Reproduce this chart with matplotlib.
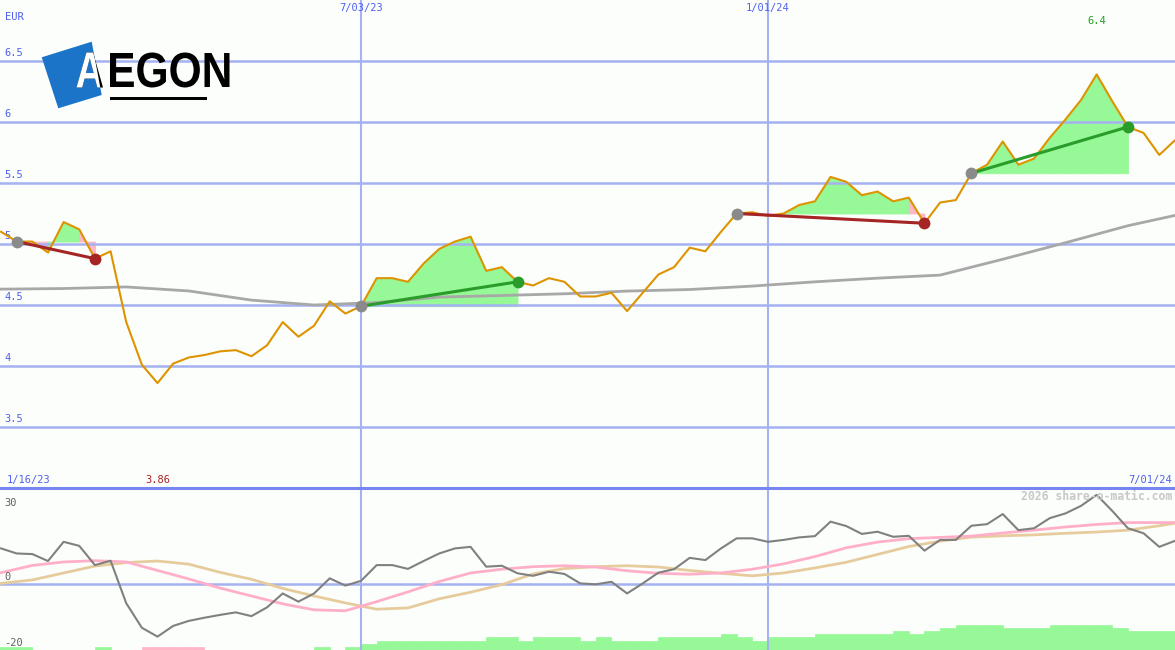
import numpy as np
import pandas as pd
import matplotlib
matplotlib.use("Agg")
import matplotlib.pyplot as plt
import matplotlib.transforms as mtransforms
from matplotlib.patches import Polygon, Rectangle, PathPatch
from matplotlib.textpath import TextPath
from matplotlib.font_manager import FontProperties

# weekly closes (EUR), one per Monday
weeks = pd.date_range("2023-01-23", periods=76, freq="7D")
price = [5.10, 5.02, 5.02, 4.93, 5.18, 5.12, 4.88, 4.94, 4.36, 4.01,
         3.86, 4.02, 4.07, 4.09, 4.12, 4.13, 4.08, 4.17, 4.36, 4.24,
         4.33, 4.53, 4.43, 4.49, 4.72, 4.72, 4.69, 4.84, 4.96, 5.02,
         5.06, 4.78, 4.81, 4.69, 4.66, 4.72, 4.69, 4.57, 4.57, 4.60,
         4.45, 4.60, 4.75, 4.81, 4.97, 4.94, 5.10, 5.25, 5.26, 5.23,
         5.25, 5.32, 5.35, 5.55, 5.51, 5.40, 5.43, 5.35, 5.38, 5.17,
         5.34, 5.36, 5.58, 5.65, 5.84, 5.65, 5.70, 5.87, 6.02, 6.18,
         6.39, 6.17, 5.96, 5.91, 5.73, 5.85]

# long moving average (read every 4 weeks)
ma_idx = list(range(0, 73, 4)) + [75]
ma_val = [4.63, 4.635, 4.648, 4.615, 4.54, 4.50, 4.52, 4.565, 4.578, 4.592,
          4.614, 4.627, 4.655, 4.69, 4.72, 4.745, 4.875, 5.01, 5.15, 5.234]

# trades: (entry week, exit week)
trades = [(1, 6), (23, 33), (47, 59), (62, 72)]

# lower panel: momentum and two signal lines
momentum = [11.3, 9.7, 9.5, 7.3, 13.4, 12.1, 6.0, 7.4, -6.1, -13.9,
            -16.7, -13.3, -11.7, -10.7, -9.8, -9.0, -10.2, -7.4, -3.0, -5.6,
            -3.0, 1.8, -0.5, 1.0, 6.0, 6.0, 4.8, 7.3, 9.7, 11.3,
            11.8, 5.5, 5.8, 3.4, 2.6, 3.9, 3.2, 0.2, -0.1, 0.7,
            -3.0, 0.2, 3.6, 4.7, 8.3, 7.6, 11.3, 14.5, 14.5, 13.4,
            14.0, 14.8, 15.2, 19.8, 18.4, 15.9, 16.6, 15.0, 15.3, 10.6,
            14.0, 14.0, 18.5, 19.0, 22.2, 17.1, 17.7, 20.9, 22.4, 24.8,
            28.3, 23.2, 17.7, 16.1, 11.8, 13.7]
sig_idx = list(range(0, 75, 2)) + [75]
signal_fast = [3.6, 5.9, 7.0, 7.4, 7.0, 4.3, 1.6, -1.3, -3.8, -6.3,
               -8.2, -8.5, -5.6, -2.5, 0.8, 3.5, 4.7, 5.5, 5.8, 5.4,
               4.2, 3.4, 3.1, 3.5, 4.7, 6.4, 8.7, 11.5, 13.3, 14.4,
               14.8, 15.2, 16.2, 17.1, 18.1, 18.9, 19.5, 19.5, 19.5]
signal_slow = [0.2, 1.3, 3.5, 5.7, 6.8, 7.3, 6.3, 3.7, 1.5, -1.4,
               -3.8, -6.0, -8.0, -7.6, -4.7, -2.6, -0.2, 3.2, 4.9, 5.5,
               5.8, 5.4, 4.3, 3.4, 2.6, 3.5, 5.1, 6.9, 9.4, 11.9,
               13.6, 14.9, 15.3, 15.6, 16.1, 16.5, 17.1, 18.5, 19.3]
# trend strength bars (positive green, negative pink)
strength = [1, 1, 1, 0, 0, 0, 0, 1, 0, 0,
            -1, -1, -1, -1, 0, 0, 0, 0, 0, 0,
            0, 1, 0, 1, 2, 3, 3, 3, 3, 3,
            3, 3, 4, 4, 3, 4, 4, 4, 3, 4,
            3, 3, 3, 4, 4, 4, 4, 5, 4, 3,
            4, 4, 4, 5, 5, 5, 5, 5, 6, 5,
            6, 7, 8, 8, 8, 7, 7, 7, 8, 8,
            8, 8, 7, 6, 6, 6]

yticks = [3.5, 4, 4.5, 5, 5.5, 6, 6.5]
vlines = [pd.Timestamp("2023-07-03"), pd.Timestamp("2024-01-01")]

BG = "#fcfefc"
GRID = "#a4b2f2"
BLUE_TXT = "#4f5ff0"
GREEN = "#96f896"
PINK = "#ffb6c6"
mono = "DejaVu Sans Mono"

fig = plt.figure(figsize=(11.75, 6.5), dpi=100, facecolor=BG)
ax = fig.add_axes([0, 162 / 650, 1, 488 / 650], facecolor=BG)
ax2 = fig.add_axes([0, 0, 1, 162 / 650], facecolor=BG)
ax.set_zorder(2)
ax2.set_zorder(1)

xmin = weeks[0] - pd.Timedelta(hours=11)
xmax = weeks[-1] + pd.Timedelta(hours=1)
for a in (ax, ax2):
    a.set_xlim(xmin, xmax)
    a.set_xticks([]); a.set_yticks([])
    for s in a.spines.values():
        s.set_visible(False)
    for d in vlines:
        a.axvline(d, color=GRID, lw=1.5, zorder=1.5)
ax.set_ylim(3.0, 7.0)
ax2.set_ylim(-20.95, 30.48)
# separator between the panels
ax.axhline(3.0, color="#7686ee", lw=2.2, clip_on=False, zorder=6)

# main panel grid + labels
lab_tr = mtransforms.blended_transform_factory(ax.transAxes, ax.transData)
for v in yticks:
    ax.axhline(v, color=GRID, lw=1.8, zorder=1.5)
    ax.text(0.004, v + 0.025, f"{v:g}", transform=lab_tr, ha="left", va="bottom",
            fontsize=7.5, family=mono, color=BLUE_TXT, zorder=0.8)
ax.text(0.004, 0.955, "EUR", transform=ax.transAxes, ha="left", va="bottom",
        fontsize=7.5, family=mono, color=BLUE_TXT)
top_tr = mtransforms.blended_transform_factory(ax.transData, ax.transAxes)
for d in vlines:
    ax.text(d, 0.993, f"{d.month}/{d.day:02d}/{d.year % 100}", transform=top_tr,
            ha="center", va="top", fontsize=7.5, family=mono, color=BLUE_TXT)

# trade fills
for a_i, b_i in trades:
    level = price[a_i]
    for i in range(a_i, b_i):
        col = GREEN if price[i + 1] > level else PINK
        ax.fill_between(weeks[i:i + 2], level, price[i:i + 2], facecolor=col,
                        edgecolor=col, lw=0.6, zorder=1)

ax.plot([weeks[i] for i in ma_idx], ma_val, color="#a8a8a8", lw=2.0, zorder=2)
ax.plot(weeks, price, color="#dd9400", lw=1.5, zorder=3)

for a_i, b_i in trades:
    up = price[b_i] > price[a_i]
    lc = "#2a9c2a" if up else "#a52424"
    ax.plot([weeks[a_i], weeks[b_i]], [price[a_i], price[b_i]], color=lc, lw=2.2, zorder=4)
    ax.plot(weeks[a_i], price[a_i], "o", ms=8.5, color="#8a8a8a", mec="none", zorder=5)
    ax.plot(weeks[b_i], price[b_i], "o", ms=8.5, color=lc, mec="none", zorder=5)

# min / max labels
imax = int(np.argmax(price)); imin = int(np.argmin(price))
ax.text(weeks[imax], 1 - 16 / 488, f"{price[imax]:.1f}", transform=top_tr, ha="center",
        va="top", fontsize=7.5, family=mono, color="#22a022")
ax.text(weeks[imin], 0.006, f"{price[imin]:.2f}", transform=top_tr, ha="center",
        va="bottom", fontsize=7.5, family=mono, color="#a52424")
ax.text(0.006, 0.006, "1/16/23", transform=ax.transAxes, ha="left", va="bottom",
        fontsize=7.5, family=mono, color=BLUE_TXT)
ax.text(0.9975, 0.006, "7/01/24", transform=ax.transAxes, ha="right", va="bottom",
        fontsize=7.5, family=mono, color=BLUE_TXT)

# lower panel
ax2.axhline(0, color=GRID, lw=1.8, zorder=1.5)
bottom = ax2.get_ylim()[0]
for d, s in zip(weeks, strength):
    if s != 0:
        col = GREEN if s > 0 else PINK
        ax2.bar(d, abs(s), bottom=bottom, width=-7, align="edge",
                facecolor=col, edgecolor=col, lw=0.5, zorder=1)
ax2.plot([weeks[i] for i in sig_idx], signal_slow, color="#e6cc9c", lw=2.0, zorder=2)
ax2.plot([weeks[i] for i in sig_idx], signal_fast, color="#ffb0c8", lw=2.0, zorder=2)
ax2.plot(weeks, momentum, color="#808080", lw=1.5, zorder=3)
lab2 = mtransforms.blended_transform_factory(ax2.transAxes, ax2.transData)
ax2.text(0.004, 0.94, "30", transform=ax2.transAxes, ha="left", va="top",
         fontsize=7.5, family=mono, color="#606060")
ax2.text(0.004, 0.6, "0", transform=lab2, ha="left", va="bottom",
         fontsize=7.5, family=mono, color="#606060")
ax2.text(0.004, 0.012, "-20", transform=ax2.transAxes, ha="left", va="bottom",
         fontsize=7.5, family=mono, color="#606060")
ax2.text(0.9975, 0.985, "2026 share-o-matic.com", transform=ax2.transAxes, ha="right",
         va="top", fontsize=8.3, family=mono, weight="bold", color="#c8c8c8")

# logo
lax = fig.add_axes([0, 0, 1, 1], zorder=10)
lax.set_xlim(0, 1175); lax.set_ylim(650, 0); lax.axis("off")
sq = Polygon([(41.7, 57.3), (91.7, 41.7), (101.7, 95), (58.3, 108.3)], closed=True,
             fc="#1b74c8", ec="none")
lax.add_patch(sq)
fp = FontProperties(family="Liberation Sans", weight="bold")


def word(s, x0, x1, ytop, ybot, color, clip=None):
    tp = TextPath((0, 0), s, size=1, prop=fp)
    ext = tp.get_extents()
    sx = (x1 - x0) / ext.width
    sy = (ybot - ytop) / ext.height
    tr = (mtransforms.Affine2D().translate(-ext.x0, -ext.y0).scale(sx, -sy)
          .translate(x0, ybot) + lax.transData)
    p = PathPatch(tp, transform=tr, fc=color, ec="none")
    lax.add_patch(p)
    if clip is not None:
        p.set_clip_path(clip)


word("A", 76.5, 103, 52.5, 87.5, "black")
word("A", 76.5, 103, 52.5, 87.5, "white", clip=sq)
word("EGON", 110, 229.5, 52.5, 87.5, "black")
lax.add_patch(Rectangle((110, 96.7), 97, 3.3, fc="black", ec="none"))

fig.savefig("out.png", dpi=100, facecolor=BG)
